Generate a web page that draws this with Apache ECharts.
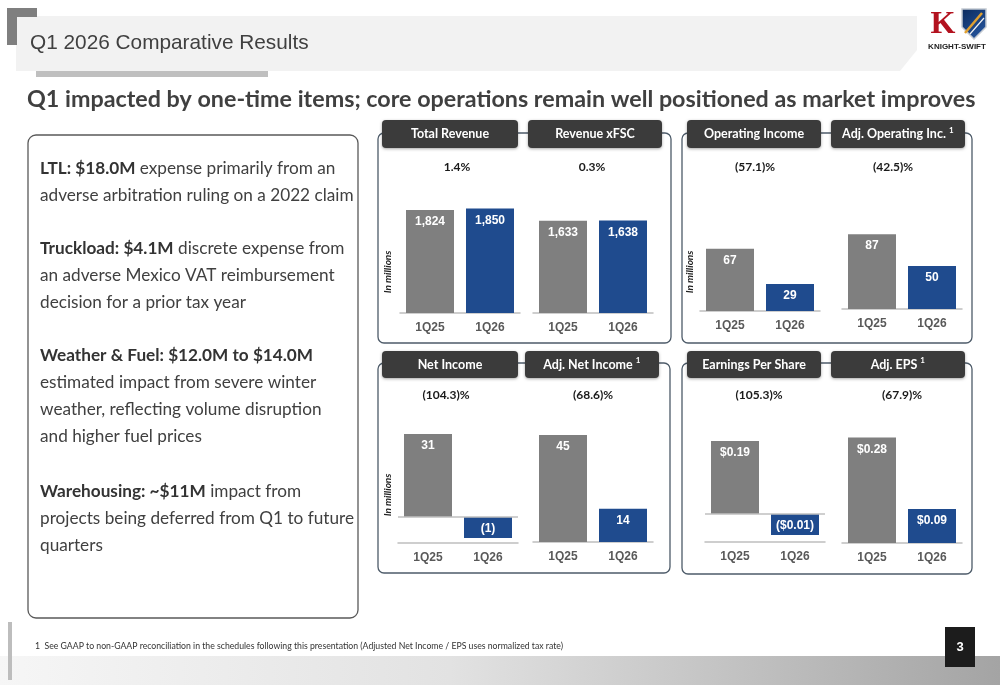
<!DOCTYPE html>
<html lang="en">
<head>
<meta charset="UTF-8">
<title>Q1 2026 Comparative Results</title>
<script src="https://cdn.jsdelivr.net/npm/echarts@6.0.0/dist/echarts.min.js"></script>
<style>
html, body { margin: 0; padding: 0; background: #fff; }
#main { width: 1000px; height: 685px; }
</style>
</head>
<body>
<div id="main"></div>
<script>
// ---- data ----
var categories = ['1Q25', '1Q26'];
var panelTitles = ['Total Revenue', 'Revenue xFSC', 'Operating Income', 'Adj. Operating Inc.',
    'Net Income', 'Adj. Net Income', 'Earnings Per Share', 'Adj. EPS'];
var footnoteMark = [false, false, false, true, false, true, false, true];
var changeLabels = ['1.4%', '0.3%', '(57.1)%', '(42.5)%', '(104.3)%', '(68.6)%', '(105.3)%', '(67.9)%'];

var totalRevenue = [1824, 1850];
var revenueXFSC = [1633, 1638];
var operatingIncome = [67, 29];
var adjOperatingIncome = [87, 50];
var netIncome = [31, -1];
var adjNetIncome = [45, 14];
var eps = [0.19, -0.01];
var adjEps = [0.28, 0.09];

var seriesValues = [totalRevenue, revenueXFSC, operatingIncome, adjOperatingIncome,
    netIncome, adjNetIncome, eps, adjEps];
var valueKind = ['int', 'int', 'int', 'int', 'int', 'int', 'usd', 'usd'];
var barColors = ['#7f7f7f', '#1f4b8e'];

var bullets = [
    ['{b|LTL: $18.0M}{r| expense primarily from an}', '{r|adverse arbitration ruling on a 2022 claim}'],
    ['{b|Truckload: $4.1M}{r| discrete expense from}', '{r|an adverse Mexico VAT reimbursement}', '{r|decision for a prior tax year}'],
    ['{b|Weather & Fuel: $12.0M to $14.0M}', '{r|estimated impact from severe winter}', '{r|weather, reflecting volume disruption}', '{r|and higher fuel prices}'],
    ['{b|Warehousing: ~$11M}{r| impact from}', '{r|projects being deferred from Q1 to future}', '{r|quarters}']
];
var footnote = '1  See GAAP to non-GAAP reconciliation in the schedules following this presentation (Adjusted Net Income / EPS uses normalized tax rate)';

// ---- layout ----
var charts = [
    { left: 400, top: 200, height: 113, min: 0, max: 2000, chgX: 457, chgY: 167 },
    { left: 533, top: 200, height: 113, min: 0, max: 2000, chgX: 592, chgY: 167 },
    { left: 700, top: 218, height: 93, min: 0, max: 100, chgX: 755, chgY: 167 },
    { left: 842, top: 223, height: 86, min: 0, max: 100, chgX: 893, chgY: 167 },
    { left: 398, top: 410, height: 133, min: -9.7, max: 40, chgX: 446, chgY: 395 },
    { left: 533, top: 423, height: 119, min: 0, max: 50, chgX: 593, chgY: 395 },
    { left: 705, top: 418, height: 124, min: -0.073, max: 0.25, chgX: 759, chgY: 395 },
    { left: 842, top: 430, height: 113, min: 0, max: 0.3, chgX: 902, chgY: 395 }
];
var tabs = [
    [382, 120, 136, 28], [528, 120, 134, 28], [687, 120, 134, 28], [831, 120, 134, 28],
    [382, 351, 136, 27], [525, 351, 134, 27], [687, 351, 134, 27], [831, 351, 134, 27]
];
var panels = [[378, 133, 293, 210], [682, 133, 290, 210], [378, 363, 292, 210], [682, 363, 290, 211]];

var ctx = document.createElement('canvas').getContext('2d');
function fitSize(text, weight, family, target) {
    ctx.font = weight + ' 100px ' + family;
    return 100 * target / ctx.measureText(text).width;
}
function textWidth(text, font) {
    ctx.font = font;
    return ctx.measureText(text).width;
}
function txt(x, y, s, font, fill, align) {
    return {
        type: 'text', x: x, y: y, silent: true,
        style: { text: s, font: font, fill: fill, textAlign: align || 'center', textVerticalAlign: 'middle',
            align: align || 'center', verticalAlign: 'middle' }
    };
}
function fmtValue(v, kind) {
    var a = Math.abs(v);
    var s = kind === 'usd' ? '$' + a.toFixed(2) : a.toLocaleString('en-US');
    return v < 0 ? '(' + s + ')' : s;
}

var headSize = fitSize('Q1 impacted by one-time items; core operations remain well positioned as market improves', 'bold', 'Lato', 949);
var titleSize = fitSize('Q1 2026 Comparative Results', 'normal', '"Liberation Sans"', 278);
var bodySize = fitSize('adverse arbitration ruling on a 2022 claim', 'normal', 'Lato', 314);
var footSize = fitSize(footnote, 'normal', 'Lato', 526);

var g = [];
// header
g.push({ type: 'polygon', silent: true, shape: { points: [[16, 16], [917, 16], [917, 50], [900, 71], [16, 71]] }, style: { fill: '#f2f2f2' } });
g.push({ type: 'rect', silent: true, shape: { x: 7, y: 8, width: 30, height: 9 }, style: { fill: '#7f7f7f' } });
g.push({ type: 'rect', silent: true, shape: { x: 7, y: 8, width: 10, height: 37 }, style: { fill: '#7f7f7f' } });
g.push({ type: 'rect', silent: true, shape: { x: 36, y: 71, width: 232, height: 6 }, style: { fill: '#bfbfbf' } });
g.push(txt(30, 43, 'Q1 2026 Comparative Results', titleSize.toFixed(1) + 'px "Liberation Sans"', '#404040', 'left'));
g.push(txt(27, 99, 'Q1 impacted by one-time items; core operations remain well positioned as market improves',
    'bold ' + headSize.toFixed(1) + 'px Lato', '#404040', 'left'));

// logo
g.push(txt(943, 25, 'K', 'bold 32px "Liberation Serif"', '#b3121f'));
g.push({ type: 'polygon', silent: true, shape: { points: [[962, 9], [986, 9], [986, 27], [974, 39], [962, 27]] },
    style: { fill: new echarts.graphic.LinearGradient(0, 0, 1, 1, [{ offset: 0, color: '#0b2a5c' }, { offset: 1, color: '#2a5ca8' }]),
        stroke: '#c4cad2', lineWidth: 1.5 } });
g.push({ type: 'polyline', silent: true, shape: { points: [[965, 33], [982, 13]] }, style: { stroke: '#e0a030', lineWidth: 2.5 } });
g.push({ type: 'polyline', silent: true, shape: { points: [[970, 34], [984, 18]] }, style: { stroke: '#f4f4f4', lineWidth: 1.2 } });
g.push(txt(957, 47, 'KNIGHT-SWIFT', 'bold 8px "Liberation Sans"', '#222'));

// left text box
g.push({ type: 'rect', silent: true, shape: { x: 28, y: 135, width: 330, height: 483, r: 8 },
    style: { fill: 'none', stroke: '#595959', lineWidth: 1.3 } });
var paraTop = [168, 248, 355, 491];
var bodyFont = bodySize.toFixed(1) + 'px Lato';
bullets.forEach(function (lines, p) {
    lines.forEach(function (line, k) {
        g.push({
            type: 'text', x: 40, y: paraTop[p] + k * 27, silent: true,
            style: {
                text: line, textAlign: 'left', textVerticalAlign: 'middle', align: 'left', verticalAlign: 'middle',
                rich: {
                    b: { font: 'bold ' + bodyFont, fill: '#333333' },
                    r: { font: bodyFont, fill: '#404040' }
                }
            }
        });
    });
});

// chart panels
panels.forEach(function (p) {
    g.push({ type: 'rect', silent: true, shape: { x: p[0], y: p[1], width: p[2], height: p[3], r: 6 },
        style: { fill: 'none', stroke: '#4d5b69', lineWidth: 1.3 } });
});
var tabFont = 'bold 12.5px Lato';
tabs.forEach(function (t, i) {
    g.push({ type: 'rect', silent: true, shape: { x: t[0], y: t[1], width: t[2], height: t[3], r: 4 },
        style: { fill: '#3b3b3b', shadowBlur: 3, shadowColor: 'rgba(0,0,0,0.35)', shadowOffsetY: 1 } });
    var cx = t[0] + t[2] / 2, cy = t[1] + t[3] / 2;
    if (footnoteMark[i]) {
        var w = textWidth(panelTitles[i], tabFont);
        g.push(txt(cx - 4, cy, panelTitles[i], tabFont, '#ffffff'));
        g.push(txt(cx - 4 + w / 2 + 3, cy - 4, '1', 'bold 8px Lato', '#ffffff', 'left'));
    } else {
        g.push(txt(cx, cy, panelTitles[i], tabFont, '#ffffff'));
    }
    g.push(txt(charts[i].chgX, charts[i].chgY, changeLabels[i], 'bold 12px Lato', '#1a1a1a'));
});
[[388, 272], [690, 272], [388, 495]].forEach(function (pos) {
    var el = txt(pos[0], pos[1], 'In millions', 'italic bold 10px Lato', '#222');
    el.rotation = Math.PI / 2;
    g.push(el);
});

// footer
g.push({ type: 'rect', silent: true, shape: { x: 0, y: 656, width: 1000, height: 29 },
    style: { fill: new echarts.graphic.LinearGradient(0, 0, 1, 0, [{ offset: 0, color: '#f6f6f6' }, { offset: 0.45, color: '#e2e2e2' }, { offset: 1, color: '#a4a4a4' }]) } });
g.push({ type: 'rect', silent: true, shape: { x: 8, y: 622, width: 4, height: 58 }, style: { fill: '#bdbdbd' } });
g.push(txt(35, 646, footnote, footSize.toFixed(1) + 'px Lato', '#333', 'left'));
g.push({ type: 'rect', silent: true, shape: { x: 945, y: 627, width: 30, height: 40 }, style: { fill: '#1c1c1c' } });
g.push(txt(960, 647, '3', 'bold 13px "Liberation Sans"', '#ffffff'));

// ---- charts ----
var grid = [], xAxis = [], yAxis = [], series = [];
charts.forEach(function (c, i) {
    grid.push({ left: c.left, top: c.top, width: 120, height: c.height });
    xAxis.push({
        type: 'category', gridIndex: i, data: categories,
        axisLine: { onZero: false, lineStyle: { color: '#bfbfbf', width: 1.5 } },
        axisTick: { show: false },
        axisLabel: { color: '#595959', fontWeight: 'bold', fontSize: 12, fontFamily: '"Liberation Sans"', margin: 9 }
    });
    yAxis.push({ type: 'value', gridIndex: i, min: c.min, max: c.max, show: false });
    var s = {
        type: 'bar', xAxisIndex: i, yAxisIndex: i, data: seriesValues[i], barWidth: 48, silent: true,
        itemStyle: { color: function (p) { return barColors[p.dataIndex]; } },
        label: {
            show: true, position: 'insideTop', distance: 6, color: '#ffffff', fontWeight: 'bold', fontSize: 12,
            fontFamily: '"Liberation Sans"',
            formatter: function (p) { return fmtValue(p.value, valueKind[i]); }
        }
    };
    if (c.min < 0) {
        s.barMinHeight = 21;
        s.markLine = {
            silent: true, symbol: 'none', label: { show: false },
            lineStyle: { color: '#bfbfbf', width: 1.5, type: 'solid' },
            data: [{ yAxis: 0 }]
        };
    }
    series.push(s);
});

var chart = echarts.init(document.getElementById('main'));
chart.setOption({
    animation: false,
    backgroundColor: '#ffffff',
    grid: grid,
    xAxis: xAxis,
    yAxis: yAxis,
    series: series,
    graphic: g
});
</script>
</body>
</html>
